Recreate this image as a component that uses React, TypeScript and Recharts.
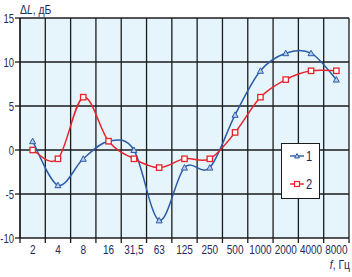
import React from "react";
import { LineChart, Line, XAxis, YAxis, CartesianGrid, Legend, Customized } from "recharts";

const freqs = ["2", "4", "8", "16", "31,5", "63", "125", "250", "500", "1000", "2000", "4000", "8000"];
const series1 = [1, -4, -1, 1, 0, -8, -2, -2, 4, 9, 11, 11, 8];
const series2 = [0, -1, 6, 1, -1, -2, -1, -1, 2, 6, 8, 9, 9];
const yTicks = [-10, -5, 0, 5, 10, 15];

const data = freqs.map((f, i) => ({ f, s1: series1[i], s2: series2[i] }));

const W = 352;
const H = 277;
const M = { top: 18, right: 3, bottom: 0, left: 0 };
const Y_W = 20;
const X_H = 39;
const PLOT_W = W - M.left - M.right - Y_W;
const PLOT_BOTTOM = H - M.bottom - X_H;
const BAND = PLOT_W / freqs.length;

const BLUE = "#2b5ca8";
const RED = "#e8232b";
const INK = "#1d2a5a";
const GRID = "#1c1c1c";
const FONT = "'Liberation Sans', Arial, sans-serif";
const SQUEEZE = 0.8; // the original uses a condensed face

// catmull-rom style smoothing, close to the spreadsheet look
const smoothCurve = (context: any) => {
  let pts: number[][] = [];
  return {
    areaStart() {},
    areaEnd() {},
    lineStart() {
      pts = [];
    },
    point(x: number, y: number) {
      pts.push([+x, +y]);
    },
    lineEnd() {
      if (!pts.length) return;
      context.moveTo(pts[0][0], pts[0][1]);
      const t = 1 / 6;
      for (let i = 0; i < pts.length - 1; i++) {
        const p0 = pts[i - 1] || pts[i];
        const p1 = pts[i];
        const p2 = pts[i + 1];
        const p3 = pts[i + 2] || p2;
        context.bezierCurveTo(
          p1[0] + (p2[0] - p0[0]) * t,
          p1[1] + (p2[1] - p0[1]) * t,
          p2[0] - (p3[0] - p1[0]) * t,
          p2[1] - (p3[1] - p1[1]) * t,
          p2[0],
          p2[1]
        );
      }
    },
  };
};

const NarrowText = ({ x, y, anchor, size = 12.5, squeeze = SQUEEZE, children }: any) => (
  <text
    transform={`translate(${x},${y}) scale(${squeeze},1)`}
    textAnchor={anchor}
    fill={INK}
    fontSize={size}
    fontFamily={FONT}
  >
    {children}
  </text>
);

const TriDot = (props: any) => {
  const { cx, cy, index } = props;
  if (cx == null || cy == null) return null;
  return (
    <polygon
      key={`t-${index}`}
      points={`${cx},${cy - 3} ${cx - 3},${cy + 2.5} ${cx + 3},${cy + 2.5}`}
      fill="#b9cbe6"
      stroke={BLUE}
      strokeWidth={1}
    />
  );
};

const SqDot = (props: any) => {
  const { cx, cy, index } = props;
  if (cx == null || cy == null) return null;
  return (
    <rect key={`s-${index}`} x={cx - 2.7} y={cy - 2.7} width={5.4} height={5.4} fill="#fff" stroke={RED} strokeWidth={1.3} />
  );
};

const XTick = (props: any) => {
  const { x, payload, index } = props;
  const left = x - BAND / 2;
  return (
    <g>
      <line x1={left} y1={PLOT_BOTTOM} x2={left} y2={PLOT_BOTTOM + 5} stroke={GRID} strokeWidth={1.3} />
      {index === freqs.length - 1 && (
        <line x1={left + BAND} y1={PLOT_BOTTOM} x2={left + BAND} y2={PLOT_BOTTOM + 5} stroke={GRID} strokeWidth={1.3} />
      )}
      <NarrowText x={x} y={254} anchor="middle">
        {payload.value}
      </NarrowText>
    </g>
  );
};

const YTick = (props: any) => {
  const { y, payload } = props;
  return (
    <NarrowText x={14} y={y + 4.5} anchor="end" size={12.5} squeeze={0.76}>
      {payload.value}
    </NarrowText>
  );
};

const LegendBox = () => (
  <div
    style={{
      width: 37,
      height: 54,
      border: `1px solid ${GRID}`,
      background: "#fff",
      position: "relative",
    }}
  >
    {[
      { name: "1", color: BLUE, tri: true },
      { name: "2", color: RED, tri: false },
    ].map((it, i) => (
      <svg key={it.name} width={30} height={16} style={{ position: "absolute", left: 8, top: 4 + i * 28 }}>
        <line x1={0} y1={8} x2={14} y2={8} stroke={it.color} strokeWidth={1.4} />
        {it.tri ? (
          <polygon points="7,5.5 4.6,10 9.4,10" fill="#b9cbe6" stroke={it.color} strokeWidth={1} />
        ) : (
          <rect x={4.5} y={5.5} width={5} height={5} fill="#fff" stroke={it.color} strokeWidth={1.2} />
        )}
        <NarrowText x={16} y={12.5} size={14}>
          {it.name}
        </NarrowText>
      </svg>
    ))}
  </div>
);

const AxisTitles = () => (
  <g>
    <NarrowText x={20} y={13.5} size={13}>
      Δ<tspan fontStyle="italic">L</tspan>, дБ
    </NarrowText>
    <NarrowText x={350} y={269} anchor="end" size={13}>
      <tspan fontStyle="italic">f</tspan>, Гц
    </NarrowText>
  </g>
);

export default function App() {
  return (
    <div style={{ position: "absolute", left: 0, top: 0, width: W, height: H, background: "#fff" }}>
      <LineChart width={W} height={H} data={data} margin={M}>
        <CartesianGrid
          fill="#e6f4fc"
          fillOpacity={1}
          stroke={GRID}
          strokeWidth={1.3}
          verticalCoordinatesGenerator={({ offset }: any) =>
            freqs.map((_, i) => offset.left + i * (offset.width / freqs.length)).concat(offset.left + offset.width)
          }
        />
        <XAxis
          dataKey="f"
          scale="band"
          height={X_H}
          axisLine={false}
          tickLine={false}
          interval={0}
          tick={<XTick />}
        />
        <YAxis
          width={Y_W}
          domain={[-10, 15]}
          ticks={yTicks}
          interval={0}
          axisLine={{ stroke: GRID, strokeWidth: 1.3 }}
          tickLine={{ stroke: GRID, strokeWidth: 1.3 }}
          tickSize={5}
          tick={<YTick />}
        />
        <Line
          dataKey="s1"
          name="1"
          type={smoothCurve as any}
          stroke={BLUE}
          strokeWidth={1.5}
          dot={TriDot}
          isAnimationActive={false}
        />
        <Line
          dataKey="s2"
          name="2"
          type={smoothCurve as any}
          stroke={RED}
          strokeWidth={1.5}
          dot={SqDot}
          isAnimationActive={false}
        />
        <Legend
          layout="vertical"
          align="center"
          verticalAlign="middle"
          content={<LegendBox />}
          wrapperStyle={{ left: 281, top: 143, width: 39, height: 56 }}
        />
        <Customized component={AxisTitles} />
      </LineChart>
    </div>
  );
}
